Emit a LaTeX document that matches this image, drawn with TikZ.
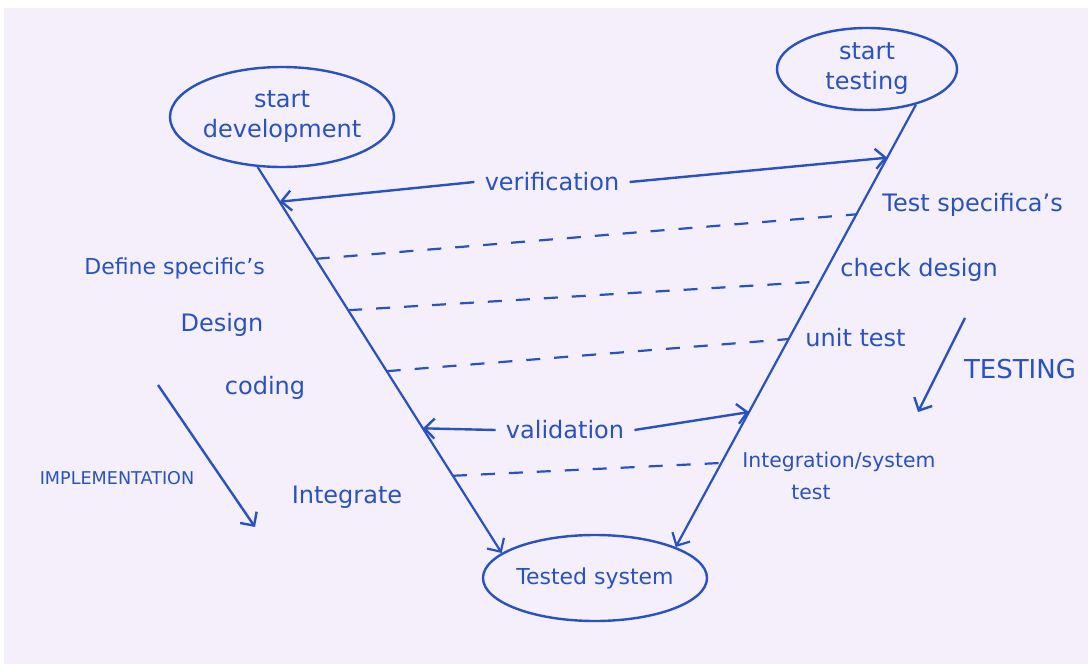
\documentclass[tikz,border=0pt]{standalone}
\usepackage{fontspec}
\setmainfont{DejaVu Sans}
\usetikzlibrary{shapes.geometric,arrows.meta}
\definecolor{ink}{RGB}{40,82,192}
\definecolor{paper}{RGB}{244,239,250}
\tikzset{
  blob/.style={draw=ink,ellipse,line width=1.2pt,inner sep=0pt,text=ink,align=center,font=\fontsize{12}{15}\selectfont},
  lbl/.style={text=ink,font=\fontsize{12}{15}\selectfont,inner sep=1pt},
  arr/.style={draw=ink,line width=1.2pt,-{Straight Barb[length=5pt,width=10pt]}},
  vline/.style={draw=ink,line width=1.1pt,-{Straight Barb[length=5pt,width=10pt]}},
  dashline/.style={draw=ink,line width=1.1pt,dash pattern=on 7pt off 7pt},
}
\begin{document}
\begin{tikzpicture}[x=0.5pt,y=-0.5pt]
\useasboundingbox (0,0) rectangle (1088,664);
\fill[white] (0,0) rectangle (1088,664);
\fill[paper] (4,8) rectangle (1088,664);

\node[blob,minimum width=112pt,minimum height=50pt] (dev) at (282,117) {start\\development};
\node[blob,minimum width=90pt,minimum height=41pt] (tst) at (867,69) {start\\testing};
\node[blob,minimum width=112pt,minimum height=43pt,font=\fontsize{11}{14}\selectfont] (sys) at (595,578) {Tested system};

\draw[vline] (dev.-116) -- coordinate[pos=.09] (l1) coordinate[pos=.238] (l2)
  coordinate[pos=.371] (l3) coordinate[pos=.529] (l4) coordinate[pos=.677] (l5)
  coordinate[pos=.80] (l6) (sys.165);
\draw[vline] (tst.-36) -- coordinate[pos=.12] (r1) coordinate[pos=.248] (r2)
  coordinate[pos=.40] (r3) coordinate[pos=.53] (r4) coordinate[pos=.695] (r5)
  coordinate[pos=.81] (r6) (sys.21);

\node[lbl,inner sep=5pt] (verif) at (552,182) {verification};
\node[lbl,inner sep=5pt] (valid) at (565,430) {validation};
\node[lbl,anchor=west] (tspec) at (880,205) {Test specifica's};
\node[lbl,anchor=west] (chk) at (838,270) {check design};
\node[lbl,anchor=west] (unit) at (803,338) {unit test};
\node[lbl,anchor=west,align=left,font=\fontsize{10.2}{16}\selectfont] (integ) at (740,476) {Integration/system\\\hspace*{2.4em}test};
\node[lbl,anchor=west,font=\fontsize{11}{14}\selectfont] (dspec) at (82,268) {Define specific's};
\node[lbl] (dsgn) at (222,325) {Design};
\node[lbl] (cod) at (265,388) {coding};
\node[lbl] (intg) at (347,497) {Integrate};
\node[lbl,font=\fontsize{8.8}{10}\selectfont] (impl) at (117,478) {IMPLEMENTATION};
\node[lbl,font=\fontsize{13}{15}\selectfont] (tstg) at (1020,369) {TESTING};

\draw[arr] (verif.west) -- (l1);
\draw[arr] (verif.east) -- (r1);
\draw[arr] (valid.west) -- (l5);
\draw[arr] (valid.east) -- (r5);

\draw[dashline] (l2) -- (r2);
\draw[dashline] (l3) -- (r3);
\draw[dashline] (l4) -- (r4);
\draw[dashline] (l6) -- (r6);

\coordinate (ia) at (158,385);
\coordinate (ib) at (255,527);
\draw[arr] (ia) -- (ib);
\coordinate (ta) at (965,318);
\coordinate (tb) at (918,412);
\draw[arr] (ta) -- (tb);
\end{tikzpicture}
\end{document}
